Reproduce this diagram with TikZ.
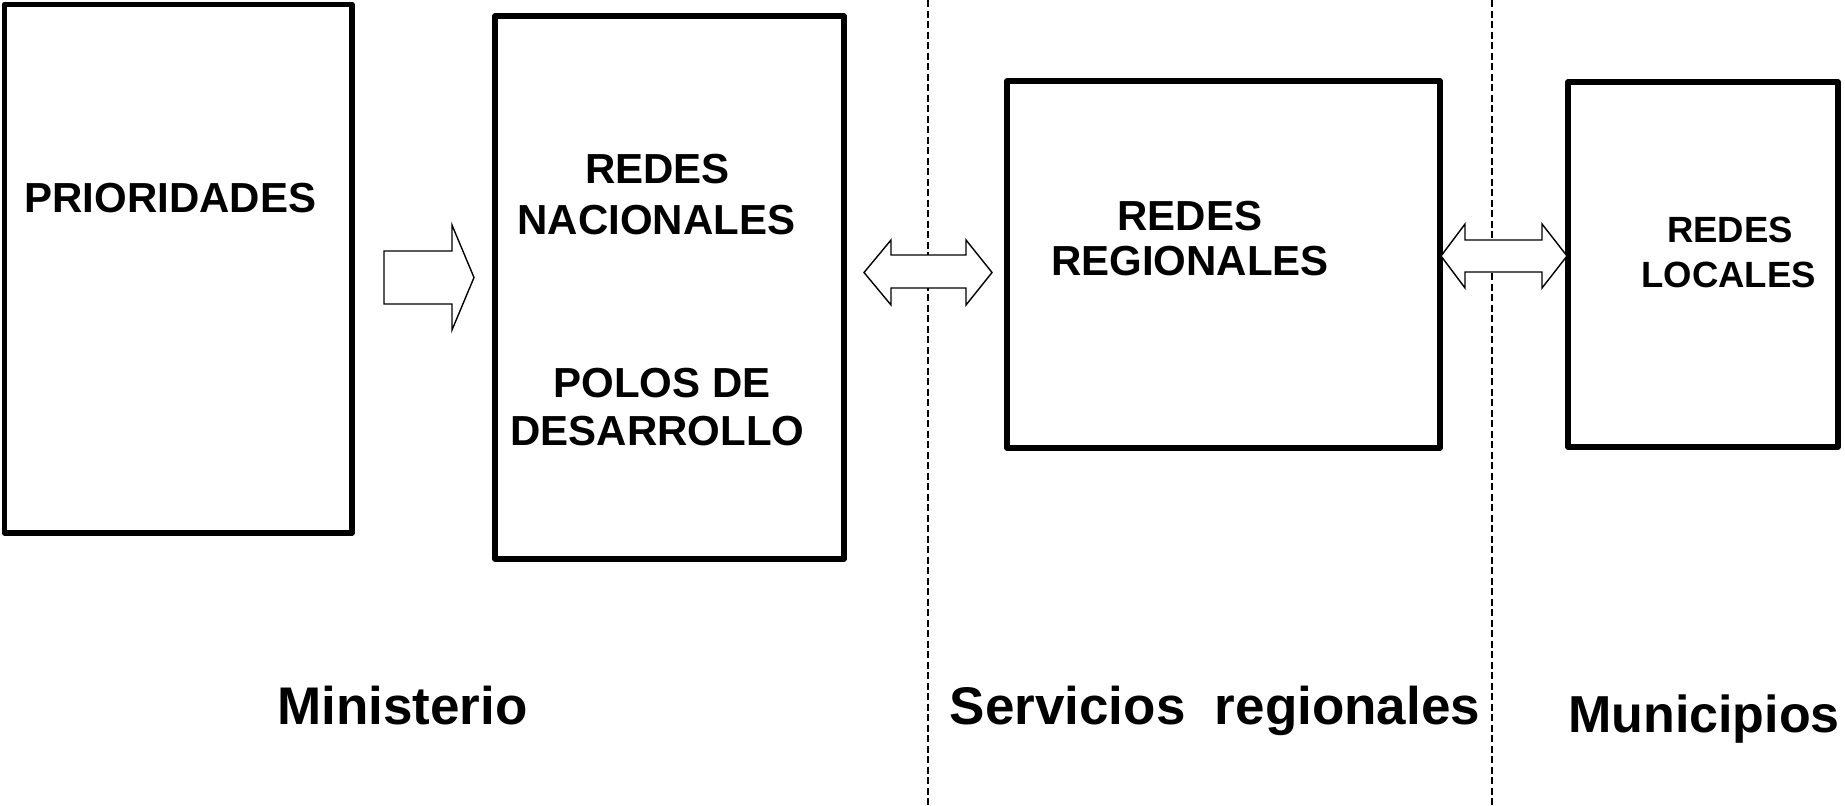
\documentclass[tikz,border=0pt]{standalone}
\usepackage{fontspec}
\setmainfont{Liberation Sans}
\begin{document}
\begin{tikzpicture}[x=1pt,y=-1pt,
  box/.style={draw=black,line width=5.5pt,line join=round,inner sep=0pt,outer sep=0pt},
  blockarrow/.style={draw=black,line width=1.4pt,fill=white,line join=miter},
  divider/.style={draw=black,line width=1.8pt,dash pattern=on 7pt off 3.5pt},
  boxtext/.style={font=\bfseries\fontsize{42}{50}\selectfont,anchor=base,inner sep=0pt},
  smalltext/.style={font=\bfseries\fontsize{36.5}{44}\selectfont,anchor=base,inner sep=0pt},
  label/.style={font=\bfseries\fontsize{53}{63}\selectfont,anchor=base,inner sep=0pt}]
\useasboundingbox (0,0) rectangle (1845,806);
\fill[white] (0,0) rectangle (1845,806);
% dividers
\coordinate (d1t) at (928,0); \coordinate (d1b) at (928,806);
\coordinate (d2t) at (1492,0); \coordinate (d2b) at (1492,806);
\draw[divider] (d1t) -- (d1b);
\draw[divider] (d2t) -- (d2b);
% boxes
\node[box,minimum width=347.5pt,minimum height=528.5pt] (b1) at (178.25,268.75) {};
\node[box,minimum width=349pt,minimum height=543pt] (b2) at (669.5,287.5) {};
\node[box,minimum width=433pt,minimum height=367pt] (b3) at (1223.5,264.5) {};
\node[box,minimum width=270pt,minimum height=365pt] (b4) at (1703,264.5) {};
% box texts
\node[boxtext] (t1) at (170.5,212) {PRIORIDADES};
\node[boxtext] (t2a) at (657.5,183) {REDES};
\node[boxtext] (t2b) at (656.5,234) {NACIONALES};
\node[boxtext] (t2c) at (662,397) {POLOS DE};
\node[boxtext] (t2d) at (657.5,445) {DESARROLLO};
\node[boxtext] (t3a) at (1190,230) {REDES};
\node[boxtext] (t3b) at (1190,275) {REGIONALES};
\node[smalltext] (t4a) at (1730,242) {REDES};
\node[smalltext] (t4b) at (1728.5,287) {LOCALES};
% block arrows
\draw[blockarrow] (384,251) -- (452,251) -- (452,225) -- (474,277.5) -- (452,330) -- (452,304) -- (384,304) -- cycle;
\draw[blockarrow] (864,272.5) -- (891,240) -- (891,255) -- (966,255) -- (966,240) -- (992,272.5) -- (966,305) -- (966,288) -- (891,288) -- (891,305) -- cycle;
\draw[blockarrow] (1441,256) -- (1465,224) -- (1465,240) -- (1542,240) -- (1542,224) -- (1567,256) -- (1542,288) -- (1542,272) -- (1465,272) -- (1465,288) -- cycle;
% bottom labels
\node[label] (l1) at (402.5,724) {Ministerio};
\node[label] (l2) at (1215,724) {Servicios~~regionales};
\node[label,font=\bfseries\fontsize{52}{62}\selectfont,anchor=base west] (l3) at (1568,732) {Municipios};
\end{tikzpicture}
\end{document}
